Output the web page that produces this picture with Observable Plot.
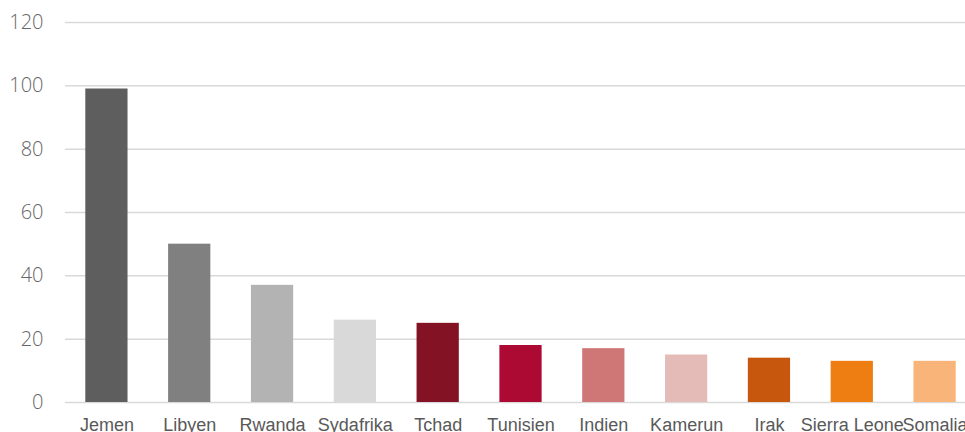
<!DOCTYPE html>
<html>
<head>
<meta charset="utf-8">
<script src="https://cdn.jsdelivr.net/npm/d3@7"></script>
<script src="https://cdn.jsdelivr.net/npm/@observablehq/plot@0.6"></script>
<style>
  html, body { margin: 0; padding: 0; background: #fff; overflow: hidden; }
  #chart svg { display: block; max-width: none !important; }
</style>
</head>
<body>
<div id="chart"></div>
<script>
const countries = ["Jemen", "Libyen", "Rwanda", "Sydafrika", "Tchad", "Tunisien", "Indien", "Kamerun", "Irak", "Sierra Leone", "Somalia"];
const values = [99, 50, 37, 26, 25, 18, 17, 15, 14, 13, 13];
const colors = ["#5e5e5e", "#808080", "#b3b3b3", "#d9d9d9", "#821224", "#ad0a33", "#cf7676", "#e5bbb7", "#c8570e", "#ee7d12", "#f9b479"];
const yTicks = [0, 20, 40, 60, 80, 100, 120];

const data = countries.map((c, i) => ({country: c, value: values[i], color: colors[i]}));

const chart = Plot.plot({
  width: 976,
  height: 432,
  marginLeft: 65,
  marginRight: 0,
  marginTop: 22,
  marginBottom: 30,
  style: {background: "#fff", maxWidth: "none"},
  x: {domain: countries, paddingInner: 0.49, paddingOuter: 0.245, round: false, label: null},
  y: {domain: [0, 120], label: null},
  marks: [
    Plot.ruleY(yTicks, {stroke: "#d9d9d9", strokeWidth: 1.5}),
    Plot.barY(data, {x: "country", y: "value", fill: "color"}),
    Plot.axisY(yTicks, {tickSize: 0, tickPadding: 22, fontSize: 20, fontFamily: "'Open Sans', sans-serif", fontWeight: 300, fill: "#666666", label: null}),
    Plot.axisX({tickSize: 0, tickPadding: 16, fontSize: 18, fontFamily: "'Liberation Sans', Arial, sans-serif", fill: "#595959", label: null})
  ]
});
document.getElementById("chart").appendChild(chart);
</script>
</body>
</html>
